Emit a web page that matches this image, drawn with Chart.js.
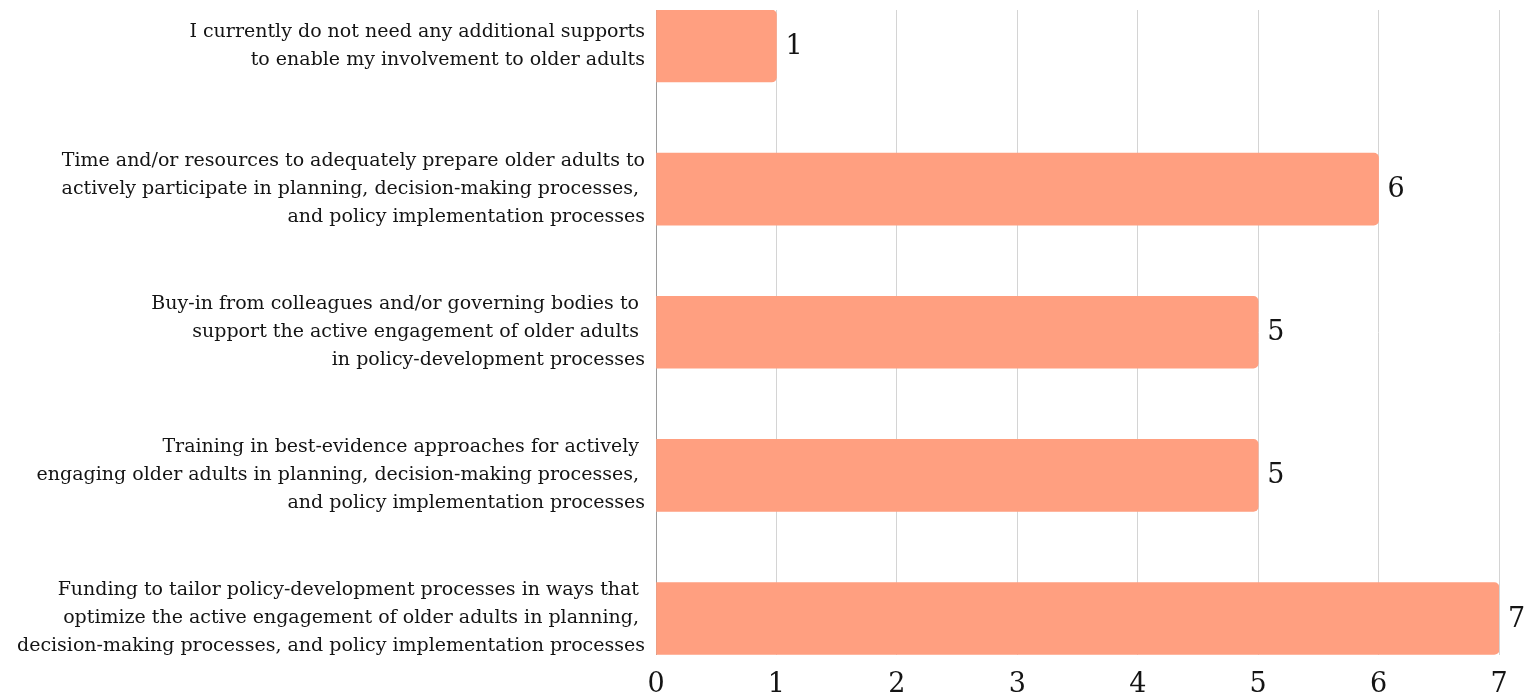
<!DOCTYPE html>
<html>
<head>
<meta charset="utf-8">
<script src="https://cdn.jsdelivr.net/npm/chart.js@4.4.1/dist/chart.umd.min.js"></script>
<style>
  html, body { margin: 0; padding: 0; background: #ffffff; }
  #wrap { width: 1536px; height: 698px; position: relative; }
</style>
</head>
<body>
<div id="wrap"><canvas id="c"></canvas></div>
<script>
// ---- data ----
const categories = [
  ["I currently do not need any additional supports", "to enable my involvement to older adults"],
  ["Time and/or resources to adequately prepare older adults to", "actively participate in planning, decision-making processes, ", "and policy implementation processes"],
  ["Buy-in from colleagues and/or governing bodies to ", "support the active engagement of older adults ", "in policy-development processes"],
  ["Training in best-evidence approaches for actively ", "engaging older adults in planning, decision-making processes, ", "and policy implementation processes"],
  ["Funding to tailor policy-development processes in ways that ", "optimize the active engagement of older adults in planning, ", "decision-making processes, and policy implementation processes"]
];
const values = [1, 6, 5, 5, 7];
const xTicks = [0, 1, 2, 3, 4, 5, 6, 7];

const FONT = "'DejaVu Serif', serif";
const barColor = '#FF9F80';

const points = values.map((v, i) => ({ x: v, y: i }));

const valueLabels = {
  id: 'valueLabels',
  afterDatasetsDraw(chart) {
    const ctx = chart.ctx;
    const meta = chart.getDatasetMeta(0);
    ctx.save();
    ctx.font = "27px " + FONT;
    ctx.fillStyle = '#141414';
    ctx.textAlign = 'left';
    ctx.textBaseline = 'middle';
    meta.data.forEach((bar, i) => {
      ctx.fillText(String(values[i]), bar.x + 9, bar.y + 1);
    });
    ctx.restore();
  }
};

new Chart(document.getElementById('c'), {
  type: 'bar',
  data: {
    datasets: [{
      data: points,
      backgroundColor: barColor,
      borderWidth: 0,
      borderRadius: 5,
      barThickness: 72
    }]
  },
  options: {
    indexAxis: 'y',
    responsive: true,
    maintainAspectRatio: false,
    animation: false,
    layout: { padding: { top: 10, right: 37, left: 0, bottom: 0 } },
    plugins: { legend: { display: false }, tooltip: { enabled: false } },
    scales: {
      x: {
        type: 'linear',
        min: 0,
        max: 7,
        afterBuildTicks: s => { s.ticks = xTicks.map(v => ({ value: v })); },
        afterFit: s => { s.height = 43; s.paddingLeft = 0; s.paddingRight = 0; },
        grid: {
          color: ctx => (ctx.tick && ctx.tick.value === 0) ? '#9a9a9a' : '#d4d4d4',
          lineWidth: 1,
          drawTicks: false
        },
        border: { display: false },
        ticks: {
          padding: 14,
          color: '#141414',
          font: { family: FONT, size: 27 }
        }
      },
      y: {
        type: 'linear',
        reverse: true,
        offset: false,
        min: -0.2516,
        max: 4.255,
        afterBuildTicks: s => { s.ticks = categories.map((c, i) => ({ value: i })); },
        afterFit: s => { s.width = 656; s.paddingTop = 0; s.paddingBottom = 0; },
        grid: { display: false, drawTicks: false, offset: false },
        border: { display: false },
        ticks: {
          padding: 11,
          color: '#141414',
          font: { family: FONT, size: 19, lineHeight: 28 / 19 },
          callback: v => categories[v] || ''
        }
      }
    }
  },
  plugins: [valueLabels]
});
</script>
</body>
</html>
